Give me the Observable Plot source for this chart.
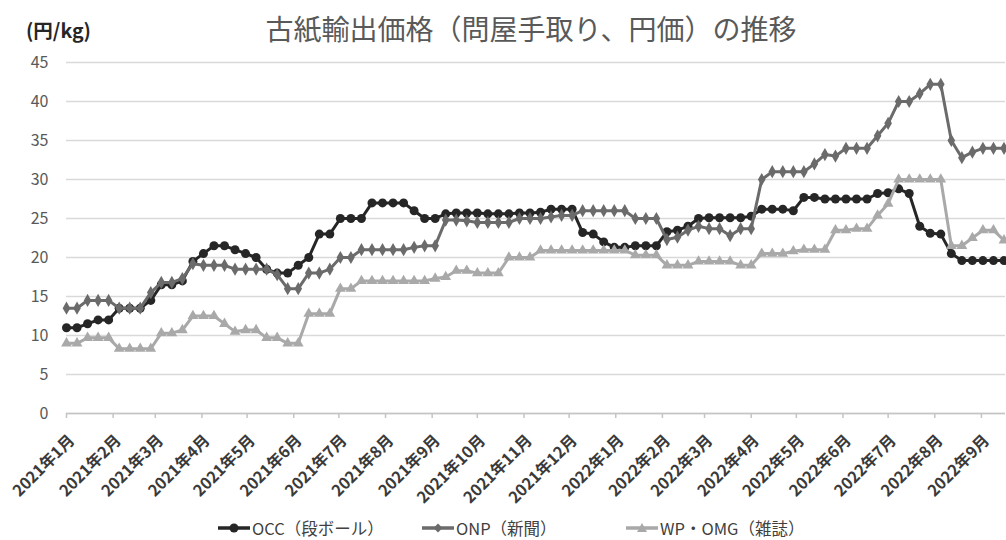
<!DOCTYPE html>
<html>
<head>
<meta charset="utf-8">
<script src="https://cdn.jsdelivr.net/npm/d3@7"></script>
<script src="https://cdn.jsdelivr.net/npm/@observablehq/plot@0.6"></script>
<style>
  html, body { margin: 0; padding: 0; background: #fff; }
  body { width: 1006px; height: 540px; overflow: hidden; font-family: "Noto Sans CJK JP", "Noto Sans", sans-serif; }
  #header { position: relative; height: 50px; }
  #unit { position: absolute; left: 26px; top: 20px; font-size: 19.5px; font-weight: bold; color: #262626; line-height: 1; }
  #title { position: absolute; left: 56px; right: 0; top: 14px; text-align: center; font-size: 28px; color: #595959; line-height: 1; }
  #chart { height: 462px; }
  #legend { display: flex; justify-content: flex-start; align-items: center; height: 28px; padding-left: 218px; padding-top: 2px; font-size: 16.5px; color: #404040; }
  .item { display: flex; align-items: center; gap: 2px; width: 204px; white-space: nowrap; }
</style>
</head>
<body>
<div id="header"><div id="unit">(円/kg)</div><div id="title">古紙輸出価格（問屋手取り、円価）の推移</div></div>
<div id="chart"></div>
<div id="legend"></div>
<script>
// Series names and colours
const seriesNames = ["OCC（段ボール）", "ONP（新聞）", "WP・OMG（雑誌）"];
const seriesColors = ["#262626", "#6b6b6b", "#a9a9a9"];
const seriesSymbols = ["circle", "diamond", "triangle"];

// Weekly prices (円/kg), first week 2021-01-01
const occ = [11, 11, 11.5, 12, 12, 13.5, 13.5, 13.5, 14.5, 16.5,
  16.5, 17, 19.5, 20.5, 21.5, 21.5, 21, 20.5, 20, 18.5,
  18, 18, 19, 20, 23, 23, 25, 25, 25, 27,
  27, 27, 27, 26, 25, 25, 25.6, 25.7, 25.7, 25.7,
  25.6, 25.6, 25.6, 25.7, 25.7, 25.8, 26.2, 26.2, 26.2, 23.2,
  23, 22, 21.3, 21.3, 21.5, 21.5, 21.5, 23.3, 23.5, 24,
  25, 25.1, 25.1, 25.1, 25.1, 25.3, 26.2, 26.2, 26.2, 26,
  27.7, 27.7, 27.5, 27.5, 27.5, 27.5, 27.5, 28.2, 28.3, 28.8,
  28.2, 24, 23.1, 23, 20.5, 19.6, 19.6, 19.6, 19.6, 19.6];

const onp = [13.5, 13.5, 14.5, 14.5, 14.5, 13.5, 13.5, 13.5, 15.5, 16.8,
  16.8, 17.3, 19.2, 19, 19, 19, 18.5, 18.5, 18.5, 18.5,
  17.8, 16, 16, 18, 18, 18.5, 20, 20, 21, 21,
  21, 21, 21, 21.3, 21.5, 21.5, 24.8, 24.8, 24.7, 24.5,
  24.5, 24.5, 24.5, 25, 25, 25, 25.2, 25.4, 25.4, 26,
  26, 26, 26, 26, 25, 25, 25, 22.3, 22.6, 23.5,
  24, 23.7, 23.7, 22.8, 23.7, 23.7, 30, 31, 31, 31,
  31, 32, 33.2, 33, 34, 34, 34, 35.6, 37.2, 40,
  40, 41, 42.2, 42.2, 35, 32.8, 33.5, 34, 34, 34];

const wp = [9, 9, 9.7, 9.7, 9.7, 8.3, 8.3, 8.3, 8.3, 10.3,
  10.3, 10.7, 12.5, 12.5, 12.5, 11.5, 10.5, 10.7, 10.7, 9.7,
  9.7, 9, 9, 12.8, 12.8, 12.8, 16, 16, 17, 17,
  17, 17, 17, 17, 17, 17.3, 17.5, 18.3, 18.3, 18,
  18, 18, 20, 20, 20, 20.9, 20.9, 20.9, 20.9, 20.9,
  20.9, 20.9, 20.9, 20.9, 20.3, 20.3, 20.3, 19, 19, 19,
  19.5, 19.5, 19.5, 19.5, 19, 19, 20.5, 20.5, 20.5, 20.8,
  21, 21, 21, 23.5, 23.5, 23.7, 23.7, 25.4, 26.9, 30,
  30, 30, 30, 30, 21.5, 21.5, 22.5, 23.5, 23.5, 22.2];

const yTicks = [0, 5, 10, 15, 20, 25, 30, 35, 40, 45];

const start = new Date(Date.UTC(2021, 0, 1));
const weeks = occ.map((_, i) => d3.utcDay.offset(start, 7 * i));
const monthTicks = d3.utcMonths(start, new Date(Date.UTC(2022, 8, 2)));
const fmt = d => `${d.getUTCFullYear()}年${d.getUTCMonth() + 1}月`;

const allSeries = [occ, onp, wp];
const data = allSeries.flatMap((arr, s) => arr.map((v, i) => ({series: seriesNames[s], date: weeks[i], value: v})));

const marks = [
  Plot.gridY(yTicks, {stroke: "#d9d9d9", strokeOpacity: 1, strokeWidth: 1.5}),
  Plot.axisY(yTicks, {tickSize: 0, tickPadding: 18, fontSize: 16, fill: "#595959", label: null}),
  Plot.ruleY([0], {stroke: "#c4c4c4", strokeWidth: 1.5}),
  Plot.axisX(monthTicks, {tickSize: 5, stroke: "#c4c4c4", strokeWidth: 1.5, strokeOpacity: 1, tickFormat: () => "", label: null}),
  Plot.text(monthTicks, {x: d => d, frameAnchor: "bottom", text: fmt, rotate: -45, textAnchor: "end",
    fontSize: 16, fontWeight: "bold", fill: "#3a3a3a", dx: 9, dy: 28})
];
seriesNames.forEach((name, s) => {
  const d = data.filter(r => r.series === name);
  marks.push(Plot.line(d, {x: "date", y: "value", stroke: seriesColors[s], strokeWidth: 3}));
  marks.push(Plot.dot(d, {x: "date", y: "value", fill: seriesColors[s], symbol: seriesSymbols[s], r: s === 0 ? 4.5 : 4}));
});

const chart = Plot.plot({
  width: 1006,
  height: 462,
  marginLeft: 66,
  marginRight: 1,
  marginTop: 12,
  marginBottom: 99,
  x: {type: "utc", domain: [start, new Date(Date.UTC(2022, 8, 17))]},
  y: {domain: [0, 45]},
  style: {fontFamily: "'Noto Sans CJK JP', 'Noto Sans', sans-serif", background: "white", overflow: "visible"},
  marks
});
document.getElementById("chart").append(chart);

// Legend
const legend = document.getElementById("legend");
seriesNames.forEach((name, s) => {
  const item = document.createElement("div");
  item.className = "item";
  const sym = seriesSymbols[s];
  let shape;
  if (sym === "circle") shape = `<circle cx="16" cy="8" r="4.5" fill="${seriesColors[s]}"/>`;
  else if (sym === "diamond") shape = `<path d="M16,3.5L20.5,8L16,12.5L11.5,8Z" fill="${seriesColors[s]}"/>`;
  else shape = `<path d="M16,3L21,12L11,12Z" fill="${seriesColors[s]}"/>`;
  item.innerHTML = `<svg width="32" height="16"><line x1="0" y1="8" x2="32" y2="8" stroke="${seriesColors[s]}" stroke-width="3.5"/>${shape}</svg><span>${name}</span>`;
  legend.append(item);
});
</script>
</body>
</html>
